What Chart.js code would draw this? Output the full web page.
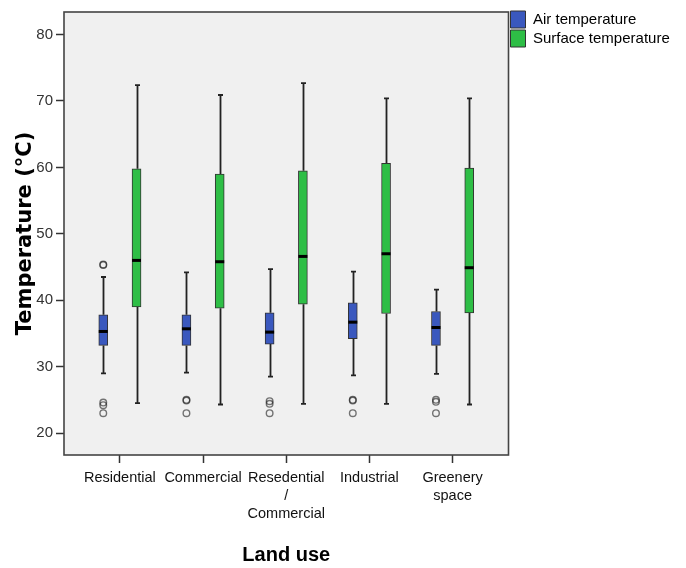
<!DOCTYPE html>
<html>
<head>
<meta charset="utf-8">
<script src="https://cdn.jsdelivr.net/npm/chart.js@4.4.1/dist/chart.umd.min.js"></script>
<style>
  body { margin: 0; background: #fff; }
  #wrap { width: 686px; height: 568px; }
</style>
</head>
<body>
<div id="wrap"><canvas id="boxChart" width="686" height="568"></canvas></div>
<script>
var categories = ['Residential', 'Commercial', ['Resedential', '/', 'Commercial'], 'Industrial', ['Greenery', 'space']];
var yTicks = [20, 30, 40, 50, 60, 70, 80];

// Air temperature
var airMin = [29.0, 29.1, 28.5, 28.7, 28.9];
var airQ1 = [33.2, 33.2, 33.4, 34.2, 33.2];
var airMed = [35.3, 35.7, 35.2, 36.7, 35.9];
var airQ3 = [37.8, 37.8, 38.1, 39.6, 38.3];
var airMax = [43.5, 44.2, 44.7, 44.3, 41.6];
var airOutliers = [[45.4, 45.3, 24.6, 24.2, 23.0], [25.0, 24.9, 23.0], [24.8, 24.4, 23.0], [25.0, 24.9, 23.0], [25.0, 24.7, 23.0]];

// Surface temperature
var surfMin = [24.5, 24.3, 24.4, 24.4, 24.3];
var surfQ1 = [39.0, 38.8, 39.4, 38.0, 38.1];
var surfMed = [46.0, 45.8, 46.6, 47.0, 44.9];
var surfQ3 = [59.8, 59.0, 59.5, 60.6, 59.9];
var surfMax = [72.4, 70.9, 72.7, 70.4, 70.4];

var shift = 0.2; // box offset from category tick

function boxData(q1, q3, off) {
    return q1.map(function (v, i) { return { x: i + off, y: [v, q3[i]] }; });
}

var outlierPts = [];
airOutliers.forEach(function (list, i) {
    list.forEach(function (v) { outlierPts.push({ x: i - shift, y: v }); });
});

var series = [
    { off: -shift, min: airMin, med: airMed, q1: airQ1, q3: airQ3, max: airMax },
    { off: shift, min: surfMin, med: surfMed, q1: surfQ1, q3: surfQ3, max: surfMax }
];

// background, frame, whiskers and medians
var boxPlugin = {
    id: 'boxPlugin',
    beforeDatasetsDraw: function (chart) {
        var ctx = chart.ctx, a = chart.chartArea;
        var xs = chart.scales.x, ys = chart.scales.y;
        ctx.save();
        ctx.fillStyle = '#f0f0f0';
        ctx.fillRect(a.left, a.top, a.right - a.left, a.bottom - a.top);
        ctx.strokeStyle = '#222';
        ctx.lineWidth = 1.8;
        series.forEach(function (s) {
            s.min.forEach(function (lo, i) {
                var x = Math.round(xs.getPixelForValue(i + s.off)) + 0.5;
                var yLo = ys.getPixelForValue(lo), yHi = ys.getPixelForValue(s.max[i]);
                ctx.beginPath();
                ctx.moveTo(x, yLo); ctx.lineTo(x, ys.getPixelForValue(s.q1[i]));
                ctx.moveTo(x, ys.getPixelForValue(s.q3[i])); ctx.lineTo(x, yHi);
                ctx.moveTo(x - 2.5, yLo); ctx.lineTo(x + 2.5, yLo);
                ctx.moveTo(x - 2.5, yHi); ctx.lineTo(x + 2.5, yHi);
                ctx.stroke();
            });
        });
        ctx.restore();
    },
    afterDatasetsDraw: function (chart) {
        var ctx = chart.ctx, a = chart.chartArea;
        var xs = chart.scales.x, ys = chart.scales.y;
        ctx.save();
        ctx.strokeStyle = '#000';
        ctx.lineWidth = 3;
        series.forEach(function (s) {
            s.med.forEach(function (m, i) {
                var x = xs.getPixelForValue(i + s.off);
                var y = ys.getPixelForValue(m);
                ctx.beginPath();
                ctx.moveTo(x - 4.5, y); ctx.lineTo(x + 4.5, y);
                ctx.stroke();
            });
        });
        ctx.strokeStyle = '#444';
        ctx.lineWidth = 1.6;
        ctx.strokeRect(a.left, a.top, a.right - a.left, a.bottom - a.top);
        ctx.restore();
    }
};

var ctx = document.getElementById('boxChart').getContext('2d');
var chart = new Chart(ctx, {
    type: 'bar',
    data: {
        datasets: [{
            label: 'Air temperature',
            data: boxData(airQ1, airQ3, -shift),
            backgroundColor: '#3a58be',
            borderColor: '#333',
            borderWidth: 1,
            borderSkipped: false,
            barThickness: 9,
            grouped: false,
            order: 2
        }, {
            label: 'Surface temperature',
            data: boxData(surfQ1, surfQ3, shift),
            backgroundColor: '#2ebe46',
            borderColor: '#333',
            borderWidth: 1,
            borderSkipped: false,
            barThickness: 9,
            grouped: false,
            order: 2
        }, {
            type: 'scatter',
            label: 'outliers',
            data: outlierPts,
            pointStyle: 'circle',
            pointRadius: 3.3,
            pointBorderWidth: 1.4,
            pointBorderColor: 'rgba(30,30,30,0.6)',
            pointBackgroundColor: 'rgba(255,255,255,0)',
            order: 1
        }]
    },
    options: {
        responsive: false,
        animation: false,
        layout: { padding: { top: 9, right: 8, bottom: 0, left: 0 } },
        plugins: {
            tooltip: { enabled: false },
            legend: {
                position: 'right',
                align: 'start',
                labels: {
                    filter: function (item) { return item.datasetIndex < 2; },
                    boxWidth: 15,
                    boxHeight: 17,
                    padding: 2,
                    color: '#000',
                    font: { family: 'Liberation Sans', size: 15 }
                }
            }
        },
        scales: {
            x: {
                type: 'linear',
                offset: false,
                min: -0.672,
                max: 4.672,
                afterBuildTicks: function (scale) {
                    scale.ticks = categories.map(function (c, i) { return { value: i }; });
                },
                afterFit: function (scale) { scale.height = 113; },
                grid: { offset: false, drawOnChartArea: false, tickLength: 8, tickColor: '#333', tickWidth: 1.5 },
                border: { display: false },
                ticks: {
                    autoSkip: false,
                    maxRotation: 0,
                    padding: 6,
                    color: '#111',
                    font: { family: 'Liberation Sans', size: 14.5, lineHeight: 1.25 },
                    callback: function (v) { return categories[v]; }
                },
                title: {
                    display: true,
                    text: 'Land use',
                    color: '#000',
                    font: { family: 'Liberation Sans', size: 20, weight: 'bold' },
                    padding: { top: 0, bottom: 1 }
                }
            },
            y: {
                min: 16.7,
                max: 83.4,
                afterBuildTicks: function (scale) {
                    scale.ticks = yTicks.map(function (v) { return { value: v }; });
                },
                afterFit: function (scale) { scale.width = 64; },
                grid: { drawOnChartArea: false, tickLength: 8, tickColor: '#333', tickWidth: 1.5 },
                border: { display: false },
                ticks: {
                    padding: 3,
                    color: '#333',
                    font: { family: 'Liberation Sans', size: 15 }
                },
                title: {
                    display: true,
                    text: 'Temperature (°C)',
                    color: '#000',
                    font: { family: 'DejaVu Sans', size: 21, weight: 'bold' },
                    padding: { top: 13, bottom: 0 }
                }
            }
        }
    },
    plugins: [boxPlugin]
});
</script>
</body>
</html>
